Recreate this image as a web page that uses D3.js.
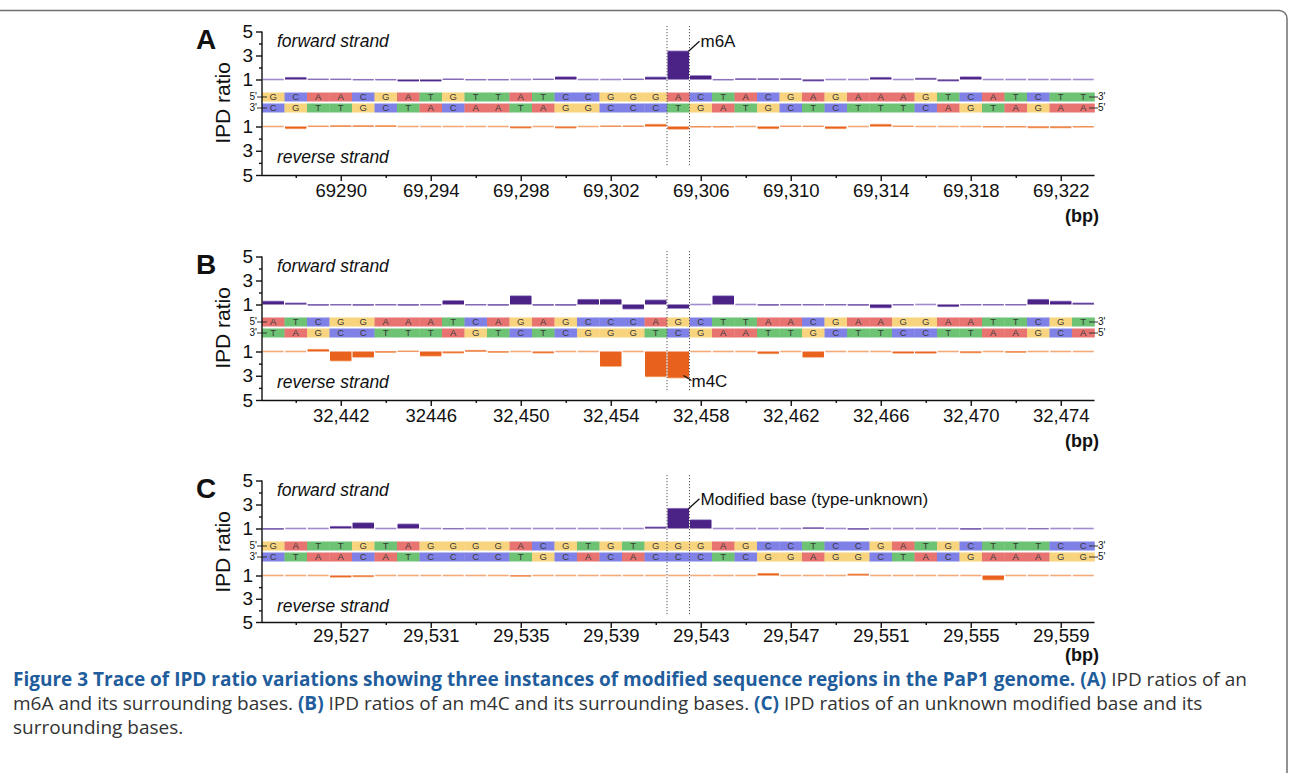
<!DOCTYPE html>
<html lang="en">
<head>
<meta charset="utf-8">
<title>IPD ratio traces</title>
<style>
  body { margin: 0; background: #fff; }
  svg { display: block; }
  .chart text { font-family: "Liberation Sans", Arial, sans-serif; fill: #111; }
  .caption { font-family: "Open Sans", sans-serif; font-size: 19px; fill: #333; }
  .caption .hl { font-weight: bold; fill: #1f5d9c; }
</style>
<script src="https://cdn.jsdelivr.net/npm/d3@7"></script>
</head>
<body>
<script>
// ---- data ----
var letters = ["A", "B", "C"];
var firstPos = [69287, 32439, 29524];

var fwdSeqA = "GCAACGATGTTATCCGGGACTACGAGAAAGTCATCTT";
var revSeqA = "CGTTGCTACAATAGGCCCTGATGCTCTTTCAGTAGAA";
var fwdSeqB = "ATCGGAAATCAGAGCCCAGCTTAACGAAGGAATTCGT";
var revSeqB = "TAGCCTTTAGTCTCGGGTCGAATTGCTTCCTTAAGCA";
var fwdSeqC = "GATTGTAGGGGACGTGTGGGAGCCTCCGATGCTTTCC";
var revSeqC = "CTAACATCCCCTGCACACCCTCGGAGGCTACGAAAGG";

var fwdA = [1.0, 1.15, 1.02, 1.02, 0.98, 0.98, 0.88, 0.88, 1.03, 0.98, 0.98, 1.0, 1.02, 1.2, 1.0, 1.0, 1.02, 1.18,
            3.35, 1.3, 0.98, 1.05, 1.05, 1.05, 0.9, 1.0, 1.0, 1.15, 1.0, 1.08, 0.9, 1.2, 1.0, 1.0, 1.0, 1.0, 1.0];
var revA = [1.0, 1.15, 0.98, 0.95, 0.95, 0.95, 1.0, 1.0, 1.0, 1.0, 1.0, 1.1, 1.0, 1.1, 1.0, 0.97, 0.97, 0.85,
            1.2, 1.03, 1.03, 1.0, 1.15, 0.98, 0.98, 1.15, 1.0, 0.85, 0.98, 1.0, 1.0, 1.0, 1.03, 1.03, 1.08, 1.08, 1.03];
var fwdB = [1.25, 1.1, 0.95, 0.97, 0.95, 0.97, 0.95, 0.97, 1.3, 0.97, 0.95, 1.7, 0.95, 0.95, 1.4, 1.4, 0.65, 1.35,
            0.7, 1.0, 1.7, 1.0, 0.95, 0.97, 0.97, 0.97, 0.95, 0.75, 0.97, 1.0, 0.85, 0.97, 0.97, 0.97, 1.4, 1.25, 1.1];
var revB = [1.0, 1.0, 0.85, 1.75, 1.45, 1.05, 0.98, 1.35, 1.1, 0.93, 1.05, 1.0, 1.1, 1.0, 1.0, 2.2, 1.0, 3.05,
            3.15, 1.0, 1.0, 1.0, 1.15, 1.0, 1.45, 1.0, 1.0, 1.0, 1.12, 1.12, 1.0, 1.08, 1.0, 1.05, 1.0, 1.0, 1.0];
var fwdC = [0.95, 1.0, 1.0, 1.15, 1.45, 1.0, 1.35, 1.0, 0.98, 1.0, 1.0, 1.0, 1.0, 1.0, 1.0, 1.0, 1.0, 1.1,
            2.65, 1.7, 1.0, 1.0, 1.0, 1.0, 1.05, 1.0, 0.95, 1.0, 1.0, 1.0, 1.0, 0.95, 1.0, 1.0, 0.98, 1.0, 1.0];
var revC = [1.0, 1.0, 1.0, 1.12, 1.08, 1.0, 1.0, 1.0, 1.0, 1.0, 1.0, 1.05, 1.0, 1.0, 1.0, 1.0, 1.0, 1.0,
            1.0, 1.0, 1.0, 1.0, 0.85, 1.0, 1.0, 1.0, 0.9, 1.0, 1.0, 1.0, 1.0, 1.0, 1.35, 1.0, 1.0, 1.0, 1.0];

var labelsA = ["69290", "69,294", "69,298", "69,302", "69,306", "69,310", "69,314", "69,318", "69,322"];
var labelsB = ["32,442", "32446", "32,450", "32,454", "32,458", "32,462", "32,466", "32,470", "32,474"];
var labelsC = ["29,527", "29,531", "29,535", "29,539", "29,543", "29,547", "29,551", "29,555", "29,559"];

var modPos = [69305, 32457, 29542];
var modStrand = ["fwd", "rev", "fwd"];
var modNames = ["m6A", "m4C", "Modified base (type-unknown)"];

var panels = [
  {fs: fwdSeqA, rs: revSeqA, fv: fwdA, rv: revA, labels: labelsA},
  {fs: fwdSeqB, rs: revSeqB, fv: fwdB, rv: revB, labels: labelsB},
  {fs: fwdSeqC, rs: revSeqC, fv: fwdC, rv: revC, labels: labelsC}
];

// ---- drawing ----
var W = 1290, H = 773;
var panelTop = [0, 225, 449];
var revBottom = [175, 175, 173];   // panel C is drawn a touch shorter
var bpY = [222, 222, 212];
var baseColor = {A: "#e87472", C: "#8081e6", G: "#f8d47f", T: "#6dc274"};
var fwdDark = "#4b2387", fwdLight = "#a08bcc";
var revDark = "#e9621d", revLight = "#f3aa78";

var svg = d3.select("body").append("svg")
  .attr("width", W).attr("height", H);

// frame
svg.append("path")
  .attr("d", "M0,10.5 H1279 A8,8 0 0 1 1287,18.5 V773")
  .attr("fill", "none").attr("stroke", "#6f6f6f").attr("stroke-width", 1.5);

panels.forEach(function (p, i) {
  var g = svg.append("g").attr("class", "chart")
    .attr("transform", "translate(0," + panelTop[i] + ")");
  var n = p.fs.length;
  var x = d3.scaleLinear()
    .domain([firstPos[i] - 0.5, firstPos[i] + n - 0.5])
    .range([262, 1094.5]);
  var yF = d3.scaleLinear().domain([1, 5]).range([79.5, 31.5]);
  var yR = d3.scaleLinear().domain([1, 5]).range([126.5, revBottom[i]]);
  var pos = d3.range(n).map(function (k) { return firstPos[i] + k; });

  // sequence rows
  var rows = [{seq: p.fs, y: 92.5, l: "5'", r: "3'"}, {seq: p.rs, y: 103.5, l: "3'", r: "5'"}];
  rows.forEach(function (row) {
    var rg = g.append("g");
    rg.selectAll("rect").data(pos).enter().append("rect")
      .attr("x", function (d) { return x(d - 0.5); })
      .attr("y", row.y)
      .attr("width", function (d) { return x(d + 0.5) - x(d - 0.5) + 0.3; })
      .attr("height", 9)
      .attr("fill", function (d, k) { return baseColor[row.seq[k]]; });
    rg.selectAll("text").data(pos).enter().append("text")
      .attr("x", function (d) { return x(d); })
      .attr("y", row.y + 7.8)
      .attr("text-anchor", "middle")
      .style("font-size", "9.5px")
      .style("fill", "#3a3a3a")
      .text(function (d, k) { return row.seq[k]; });
    rg.append("line").attr("x1", 257).attr("x2", 267)
      .attr("y1", row.y + 4.5).attr("y2", row.y + 4.5)
      .attr("stroke", "#333").attr("stroke-width", 1);
    rg.append("text").attr("x", 257).attr("y", row.y + 7.5)
      .attr("text-anchor", "end").style("font-size", "10px").text(row.l);
    rg.append("line").attr("x1", 1089).attr("x2", 1098)
      .attr("y1", row.y + 4.5).attr("y2", row.y + 4.5)
      .attr("stroke", "#333").attr("stroke-width", 1);
    rg.append("text").attr("x", 1098).attr("y", row.y + 7.5)
      .style("font-size", "10px").text(row.r);
  });

  // IPD bars
  function drawBars(vals, y, dark, light) {
    var bg = g.append("g");
    bg.selectAll("line").data(pos).enter().append("line")
      .attr("x1", function (d) { return x(d - 0.5) + 0.8; })
      .attr("x2", function (d) { return x(d + 0.5) - 0.8; })
      .attr("y1", function (d, k) { return y(vals[k]); })
      .attr("y2", function (d, k) { return y(vals[k]); })
      .attr("stroke", light).attr("stroke-width", 1.6);
    bg.selectAll("rect").data(pos).enter().append("rect")
      .attr("x", function (d) { return x(d - 0.5) + 0.5; })
      .attr("width", function (d) { return x(d + 0.5) - x(d - 0.5) - 1; })
      .attr("y", function (d, k) { return Math.min(y(1), y(vals[k])); })
      .attr("height", function (d, k) { return Math.abs(y(vals[k]) - y(1)); })
      .attr("fill", dark);
  }
  drawBars(p.fv, yF, fwdDark, fwdLight);
  drawBars(p.rv, yR, revDark, revLight);

  // dotted guides around the modified base
  [modPos[i] - 0.5, modPos[i] + 0.5].forEach(function (v) {
    g.append("line").attr("x1", x(v)).attr("x2", x(v))
      .attr("y1", 26).attr("y2", 166)
      .attr("stroke", "#555").attr("stroke-width", 1).attr("stroke-dasharray", "1.2,1.8");
  });

  // modification label
  var mk = modPos[i] - firstPos[i];
  if (modStrand[i] === "fwd") {
    var ty = yF(p.fv[mk]);
    g.append("line").attr("x1", x(modPos[i] + 0.5) - 1).attr("y1", ty)
      .attr("x2", x(modPos[i] + 0.5) + 10).attr("y2", ty - 10)
      .attr("stroke", "#111").attr("stroke-width", 1.3);
    g.append("text").attr("x", x(modPos[i] + 0.5) + 11).attr("y", ty - 4)
      .style("font-size", "17px").text(modNames[i]);
  } else {
    var by = yR(p.rv[mk]);
    g.append("line").attr("x1", x(modPos[i] + 0.5) - 6).attr("y1", by - 2)
      .attr("x2", x(modPos[i] + 0.5) + 2).attr("y2", by + 3)
      .attr("stroke", "#111").attr("stroke-width", 1.3);
    g.append("text").attr("x", x(modPos[i] + 0.5) + 2).attr("y", by + 9)
      .style("font-size", "17px").text(modNames[i]);
  }

  // y axes
  g.append("line").attr("x1", 262).attr("x2", 262)
    .attr("y1", yF(5)).attr("y2", yR(5))
    .attr("stroke", "#111").attr("stroke-width", 1.4);
  [yF, yR].forEach(function (y) {
    var major = g.append("g").attr("transform", "translate(262,0)")
      .call(d3.axisLeft(y).tickValues([1, 3, 5]).tickSize(6).tickPadding(3).tickFormat(d3.format("d")));
    var minor = g.append("g").attr("transform", "translate(262,0)")
      .call(d3.axisLeft(y).tickValues([2, 4]).tickSize(3).tickFormat(""));
    [major, minor].forEach(function (a) {
      a.select(".domain").remove();
      a.selectAll("line").attr("stroke", "#111").attr("stroke-width", 1.4);
    });
    major.selectAll("text").style("font-size", "19px").style("fill", "#111");
  });

  // x axis
  var labelPos = p.labels.map(function (s) { return +s.replace(/,/g, ""); });
  var minorPos = pos.filter(function (v) {
    return (v - labelPos[0]) % 2 === 0 && labelPos.indexOf(v) < 0;
  });
  var xMajor = g.append("g").attr("transform", "translate(0," + yR(5) + ")")
    .call(d3.axisBottom(x).tickValues(labelPos).tickSize(6).tickPadding(i === 2 ? 1 : 3)
      .tickFormat(function (d, k) { return p.labels[k]; }));
  var xMinor = g.append("g").attr("transform", "translate(0," + yR(5) + ")")
    .call(d3.axisBottom(x).tickValues(minorPos).tickSize(3).tickFormat(""));
  xMajor.select(".domain").attr("stroke", "#111").attr("stroke-width", 1.4)
    .attr("d", "M262,0.5H" + x(firstPos[i] + n - 0.5));
  xMinor.select(".domain").remove();
  [xMajor, xMinor].forEach(function (a) {
    a.selectAll("line").attr("stroke", "#111").attr("stroke-width", 1.4);
  });
  xMajor.selectAll("text").style("font-size", "18.5px").style("fill", "#111");

  g.append("text").attr("x", 1099).attr("y", bpY[i]).attr("text-anchor", "end")
    .style("font-size", "18px").style("font-weight", "bold").text("(bp)");

  // panel titles
  g.append("text").attr("x", 196).attr("y", 49)
    .style("font-size", "28px").style("font-weight", "bold").text(letters[i]);
  g.append("text").attr("transform", "translate(230,103) rotate(-90)")
    .attr("text-anchor", "middle").style("font-size", "21px").text("IPD ratio");
  g.append("text").attr("x", 277).attr("y", 47)
    .style("font-size", "17.5px").style("font-style", "italic").text("forward strand");
  g.append("text").attr("x", 277).attr("y", 163)
    .style("font-size", "17.5px").style("font-style", "italic").text("reverse strand");
});

// caption
var cap = svg.append("text").attr("class", "caption");
var l1 = cap.append("tspan").attr("x", 13).attr("y", 686);
l1.append("tspan").attr("class", "hl")
  .text("Figure 3 Trace of IPD ratio variations showing three instances of modified sequence regions in the PaP1 genome.");
l1.append("tspan").text(" ");
l1.append("tspan").attr("class", "hl").text("(A)");
l1.append("tspan").text(" IPD ratios of an");
var l2 = cap.append("tspan").attr("x", 13).attr("y", 710);
l2.append("tspan").text("m6A and its surrounding bases. ");
l2.append("tspan").attr("class", "hl").text("(B)");
l2.append("tspan").text(" IPD ratios of an m4C and its surrounding bases. ");
l2.append("tspan").attr("class", "hl").text("(C)");
l2.append("tspan").text(" IPD ratios of an unknown modified base and its");
cap.append("tspan").attr("x", 13).attr("y", 734).text("surrounding bases.");
</script>
</body>
</html>
